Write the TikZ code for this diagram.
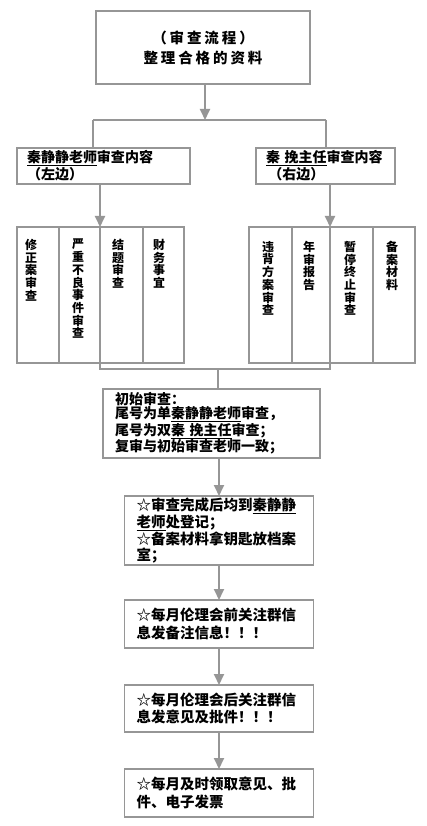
\documentclass[tikz,border=0pt]{standalone}
\usepackage{fontspec}
\setmainfont{Noto Sans CJK SC}
\usetikzlibrary{arrows.meta}
\definecolor{lg}{RGB}{150,150,150}
\begin{document}
\begin{tikzpicture}[x=1pt,y=-1pt,
  ln/.style={draw=lg, line width=1.8pt},
  arr/.style={ln, -{Triangle[width=10pt,length=11pt]}},
  box/.style={draw=lg, line width=1.6pt, inner ysep=0pt, outer sep=0pt, fill=white},
  col/.style={draw=lg, line width=1.1pt, inner sep=0pt, outer sep=0pt, anchor=north west},
  vtxt/.style={font=\fontsize{12}{12.7}\selectfont\bfseries, align=center, anchor=north, inner sep=0pt},
  hf/.style={font=\fontsize{14}{17}\selectfont\bfseries, align=left},
]
\useasboundingbox[fill=white] (0,0) rectangle (427,826);

% top box
\node[box, minimum width=214, minimum height=73, align=center,
  font=\fontsize{14.5}{20}\selectfont\bfseries\addfontfeatures{LetterSpace=20}] (top) at (203,47.5)
  {（审查流程）\\整理合格的资料};

% headers
\node[box, hf, minimum width=173, minimum height=36, inner xsep=10pt, text width=153] (lh) at (103.5,166)
  {\mbox{\underline{秦静静老师}审查内容}\\（左边）};
\node[box, hf, minimum width=139, minimum height=36, inner xsep=10pt, text width=119] (rh) at (325.5,166)
  {\mbox{\underline{秦\ 挽主任}审查内容}\\\mbox{\,（右边）}};

% left columns
\node[col, minimum width=42, minimum height=136] (lc1) at (17,227) {};
\node[col, minimum width=41, minimum height=136] (lc2) at (59,227) {};
\node[col, minimum width=43, minimum height=136] (lc3) at (100,227) {};
\node[col, minimum width=41, minimum height=136] (lc4) at (143,227) {};
\node[vtxt] (lt1) at (31,239) {修\\正\\案\\审\\查};
\node[vtxt] (lt2) at (78,239) {严\\重\\不\\良\\事\\件\\审\\查};
\node[vtxt] (lt3) at (118,239) {结\\题\\审\\查};
\node[vtxt] (lt4) at (159,239) {财\\务\\事\\宜};

% right columns
\node[col, minimum width=43, minimum height=136] (rc1) at (249,227) {};
\node[col, minimum width=38, minimum height=136] (rc2) at (292,227) {};
\node[col, minimum width=43, minimum height=136] (rc3) at (330,227) {};
\node[col, minimum width=42, minimum height=136] (rc4) at (373,227) {};
\node[vtxt] (rt1) at (268,241) {违\\背\\方\\案\\审\\查};
\node[vtxt] (rt2) at (309,241) {年\\审\\报\\告};
\node[vtxt] (rt3) at (350,241) {暂\\停\\终\\止\\审\\查};
\node[vtxt] (rt4) at (392,241) {备\\案\\材\\料};

% initial review box
\node[box, minimum width=217, minimum height=69, inner xsep=12pt, text width=193, align=left,
  font=\fontsize{14}{14.2}\selectfont\bfseries] (init) at (211.5,423.5)
  {初始审查：\\尾号为单\underline{秦静静老师}审查，\\尾号为双\mbox{\underline{秦\ 挽主任}}审查；\\复审与初始审查老师一致；};

% following boxes
\node[box, minimum width=189, minimum height=69, inner xsep=12pt, text width=165, align=left,
  font=\fontsize{14.5}{15.6}\selectfont\bfseries] (b2) at (219,530.5)
  {☆审查完成后均到\underline{秦静静}\\\underline{老师}处登记；\\☆备案材料拿钥匙放档案\\室；};
\node[box, minimum width=189, minimum height=48, inner xsep=12pt, text width=165, align=left,
  font=\fontsize{14.5}{17.5}\selectfont\bfseries] (b3) at (219,624)
  {☆每月伦理会前关注群信\\息发备注信息！！！};
\node[box, minimum width=189, minimum height=47, inner xsep=12pt, text width=165, align=left,
  font=\fontsize{14.5}{17.5}\selectfont\bfseries] (b4) at (219,708.5)
  {☆每月伦理会后关注群信\\息发意见及批件！！！};
\node[box, minimum width=189, minimum height=48, inner xsep=12pt, text width=165, align=left,
  font=\fontsize{14.5}{17.5}\selectfont\bfseries] (b5) at (219,793)
  {☆每月及时领取意见、批\\件、电子发票};

% connectors
\coordinate (jt) at (205,120);
\coordinate (jl) at (93,120);
\coordinate (jr) at (326,120);
\coordinate (jb) at (218,369);
\draw[arr] (top.south -| jt) -- (jt);
\draw[ln] (jl) -- (jr);
\draw[ln] (jl) -- (jl |- lh.north);
\draw[ln] (jr) -- (jr |- rh.north);
\draw[arr] (lh.south -| lc2.north east) -- (lc2.north east);
\draw[arr] (rh.south -| rc2.north east) -- (rc2.north east);
\draw[ln] (lc2.south east) |- (jb) -| (rc2.south east);
\draw[ln] (jb) -- (jb |- init.north);
\draw[arr] (init.south -| b2.north) -- (b2.north);
\draw[arr] (b2.south) -- (b3.north);
\draw[arr] (b3.south) -- (b4.north);
\draw[arr] (b4.south) -- (b5.north);
\end{tikzpicture}
\end{document}
